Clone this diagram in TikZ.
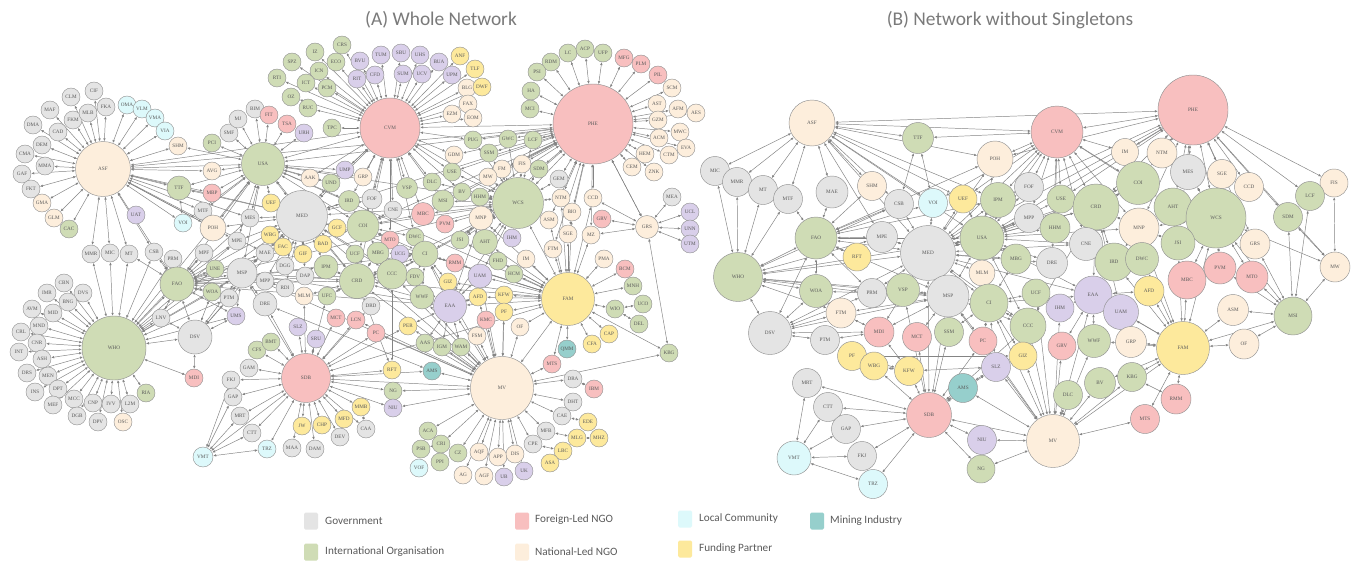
\documentclass[tikz,border=0pt]{standalone}
\usepackage{fontspec}
\setmainfont{Carlito}
\newfontfamily\labfont{Liberation Serif}
\usetikzlibrary{arrows.meta}
\pgfdeclarelayer{back}
\pgfdeclarelayer{bg}
\pgfsetlayers{back,bg,main}
\definecolor{cGov}{HTML}{E4E4E4}
\definecolor{cIO}{HTML}{CFDCB5}
\definecolor{cFN}{HTML}{F8BFBF}
\definecolor{cNN}{HTML}{FDEEDC}
\definecolor{cLC}{HTML}{DDF9FB}
\definecolor{cFP}{HTML}{FDE99C}
\definecolor{cMI}{HTML}{96CFCC}
\definecolor{cPU}{HTML}{D9CFEA}
\definecolor{nodeb}{HTML}{929292}
\definecolor{edgec}{HTML}{848484}
\definecolor{labc}{HTML}{5A5A5A}
\definecolor{titc}{HTML}{7A7A7A}
\definecolor{legc}{HTML}{5A5A5A}
\tikzset{
  nb/.style={circle, draw=nodeb, line width=0.45pt, inner sep=0pt, text=labc,
    font=\labfont\fontsize{5.2}{6}\selectfont},
  sGov/.style={nb, fill=cGov},
  sIO/.style={nb, fill=cIO},
  sFN/.style={nb, fill=cFN},
  sNN/.style={nb, fill=cNN},
  sLC/.style={nb, fill=cLC},
  sFP/.style={nb, fill=cFP},
  sMI/.style={nb, fill=cMI},
  sPU/.style={nb, fill=cPU},
  ed/.style={draw=edgec, line width=0.48pt,
    {Latex[length=3pt,width=2.5pt]}-{Latex[length=3pt,width=2.5pt]}},
  ttl/.style={text=titc, font=\fontsize{19.4}{22}\selectfont, inner sep=0pt},
  legsq/.style={minimum width=14pt, minimum height=17pt, inner sep=0pt, rounded corners=1.5pt},
  legtx/.style={anchor=west, text=legc, font=\fontsize{11.2}{13}\selectfont, inner sep=0pt}
}
\newcommand{\nd}[5][18]{\node[#2,minimum size=#1pt] (#3) at (#4,#5) {#3};}
\newcommand{\ndb}[5][29]{\node[#2,minimum size=#1pt] (b#3) at (#4,#5) {#3};}
\newcommand{\hubA}[2]{\foreach \tgt in {#2} {\draw[ed] (#1) -- (\tgt);}}
\newcommand{\hubB}[2]{\foreach \tgt in {#2} {\draw[ed] (b#1) -- (b\tgt);}}
\begin{document}
\begin{tikzpicture}[x=1pt,y=-1pt]
\useasboundingbox (0,0) rectangle (1356,562);
\begin{pgfonlayer}{back}
\fill[white] (0,0) rectangle (1356,562);
\end{pgfonlayer}
\node[ttl] (tA) at (441,20) {(A) Whole Network};
\node[ttl] (tB) at (1010,20) {(B) Network without Singletons};
% ===================== LEFT NETWORK =====================
\nd[55]{sNN}{ASF}{103}{169}
\nd{sGov}{CIF}{94}{91}
\nd{sGov}{CLM}{71}{97}
\nd{sGov}{MAF}{50}{110}
\nd{sGov}{FKM}{73}{120}
\nd{sGov}{MLB}{88}{113}
\nd{sGov}{FKA}{106}{107}
\nd{sLC}{OMA}{127}{105}
\nd{sLC}{VLM}{142}{109}
\nd{sLC}{VMA}{155}{118}
\nd{sLC}{VIA}{165}{131}
\nd{sNN}{SHM}{178}{146}
\nd{sGov}{DMA}{33}{125}
\nd{sGov}{CAD}{58}{132}
\nd{sGov}{DEM}{42}{145}
\nd{sGov}{CMA}{25}{154}
\nd{sGov}{MMA}{45}{166}
\nd{sGov}{GAF}{22}{174}
\nd{sGov}{FKT}{31}{189}
\nd{sNN}{GMA}{42}{203}
\nd{sNN}{GLM}{54}{218}
\nd{sIO}{CAC}{69}{229}
\nd{sPU}{UAT}{136}{215}
\nd[24]{sIO}{TTF}{179}{188}
\nd{sFN}{MBP}{212}{193}
\nd{sNN}{AVG}{212}{171}
\nd{sIO}{PCI}{212}{143}
\nd{sGov}{SMF}{229}{133}
\nd{sGov}{MTF}{203}{211}
\nd{sLC}{VOI}{183}{223}
\nd[26]{sNN}{POH}{213}{228}
\nd{sGov}{MPE}{237}{241}
% WHO cluster
\nd[64]{sIO}{WHO}{114}{348}
\nd{sGov}{MMR}{91}{254}
\nd{sGov}{MIC}{110}{253}
\nd{sGov}{MT}{129}{254}
\nd{sGov}{CSB}{154}{252}
\nd{sGov}{PRM}{173}{259}
\nd{sGov}{MPF}{204}{253}
\nd{sIO}{UNE}{215}{269}
\nd[34]{sIO}{FAO}{177}{284}
\nd{sIO}{WOA}{212}{292}
\nd{sGov}{PTM}{229}{298}
\nd{sPU}{UMS}{236}{316}
\nd{sGov}{LNV}{161}{318}
\nd[34]{sGov}{DSV}{195}{337}
\nd{sFN}{MDI}{194}{378}
\nd{sGov}{CBN}{64}{283}
\nd{sGov}{IMR}{47}{293}
\nd{sGov}{DVS}{83}{293}
\nd{sGov}{BNG}{68}{302}
\nd{sGov}{AVM}{32}{309}
\nd{sGov}{MID}{53}{313}
\nd{sGov}{MND}{39}{326}
\nd{sGov}{CRL}{21}{332}
\nd{sGov}{CNR}{37}{343}
\nd{sGov}{INT}{19}{352}
\nd{sGov}{ASH}{42}{359}
\nd{sGov}{DRS}{27}{373}
\nd{sGov}{MEN}{48}{376}
\nd{sGov}{DPT}{58}{389}
\nd{sGov}{INS}{35}{392}
\nd{sGov}{MCC}{74}{399}
\nd{sGov}{MEF}{53}{405}
\nd{sGov}{CNP}{93}{403}
\nd{sGov}{IVV}{111}{404}
\nd{sGov}{L2M}{130}{404}
\nd{sIO}{RIA}{146}{393}
\nd{sGov}{DGB}{77}{416}
\nd{sGov}{DPV}{98}{422}
\nd{sNN}{OSC}{123}{422}
% VMT cluster
\nd{sGov}{FKJ}{231}{380}
\nd{sGov}{GAP}{233}{397}
\nd{sGov}{MRT}{240}{416}
\nd{sGov}{CTT}{252}{433}
\nd{sLC}{TRZ}{267}{449}
\nd[20]{sLC}{VMT}{203}{457}
% CVM cluster
\nd[60]{sFN}{CVM}{390}{128}
\nd{sIO}{CRS}{342}{45}
\nd{sIO}{IZ}{315}{52}
\nd{sIO}{ECO}{336}{62}
\nd{sIO}{SPZ}{292}{62}
\nd{sIO}{ICN}{319}{71}
\nd{sIO}{RTI}{277}{78}
\nd{sIO}{ICT}{306}{83}
\nd{sIO}{PCM}{327}{88}
\nd{sIO}{OZ}{291}{97}
\nd{sIO}{RUC}{308}{108}
\nd{sPU}{BVU}{360}{61}
\nd{sPU}{TUM}{381}{55}
\nd{sPU}{SBU}{401}{53}
\nd{sPU}{UHS}{420}{55}
\nd{sPU}{BUA}{439}{62}
\nd{sFP}{ANF}{460}{56}
\nd{sPU}{RIT}{357}{79}
\nd{sPU}{CFD}{375}{75}
\nd{sPU}{SUM}{403}{74}
\nd{sPU}{UCV}{422}{74}
\nd{sPU}{UPM}{452}{75}
\nd{sFP}{TLF}{475}{69}
\nd{sNN}{BLG}{467}{88}
\nd{sFP}{DWF}{482}{87}
\nd{sNN}{FAX}{468}{104}
\nd{sNN}{EOM}{473}{118}
\nd{sNN}{EZM}{452}{114}
\nd{sIO}{TPC}{332}{128}
% USA cluster
\nd[43]{sIO}{USA}{263}{164}
\nd{sGov}{BIM}{255}{109}
\nd{sGov}{MJ}{238}{119}
\nd{sFN}{FIT}{269}{115}
\nd{sFN}{TSA}{287}{124}
\nd{sPU}{URH}{304}{133}
% centre
\nd[51]{sGov}{MED}{302}{216}
\nd{sFP}{UEF}{271}{203}
\nd{sGov}{MES}{250}{218}
\nd{sFP}{WBG}{270}{235}
\nd{sFP}{FAC}{283}{247}
\nd{sFP}{BAD}{323}{244}
\nd{sFP}{GCF}{337}{228}
\nd{sPU}{UMP}{345}{170}
\nd{sNN}{GRP}{363}{177}
\nd{sNN}{AAK}{310}{178}
\nd{sIO}{UND}{331}{183}
\nd[21]{sIO}{IRD}{349}{201}
\nd[20]{sGov}{FOF}{372}{199}
\nd[21]{sIO}{VSP}{407}{188}
\nd{sIO}{DLC}{432}{182}
\nd{sNN}{GDM}{454}{155}
\nd{sIO}{USE}{452}{172}
\nd{sIO}{BV}{462}{192}
\nd[22]{sIO}{MSI}{443}{201}
\nd[23]{sFN}{MBC}{423}{214}
\nd{sFN}{PVM}{445}{224}
\nd{sGov}{CNE}{393}{210}
\nd[32]{sIO}{COI}{363}{226}
\nd{sFN}{MTO}{390}{240}
\nd{sIO}{DWC}{415}{237}
\nd{sIO}{JSI}{460}{240}
\nd{sGov}{MAE}{265}{253}
\nd{sFP}{GIF}{303}{254}
\nd{sGov}{DGG}{285}{266}
\nd{sGov}{MPP}{265}{281}
\nd{sGov}{DAP}{305}{276}
\nd{sGov}{RDI}{285}{288}
\nd[30]{sGov}{MSP}{242}{273}
\nd[24]{sIO}{IPM}{326}{267}
\nd{sIO}{UCF}{355}{254}
\nd[22]{sIO}{MBG}{378}{253}
\nd{sPU}{UCG}{400}{254}
\nd[26]{sIO}{CI}{425}{254}
\nd{sFN}{RMM}{455}{263}
\nd[35]{sIO}{CRD}{357}{281}
\nd[30]{sIO}{CCC}{392}{274}
\nd{sIO}{FDV}{415}{277}
\nd{sFP}{GIZ}{448}{282}
\nd[24]{sIO}{WWF}{422}{297}
\nd[33]{sPU}{EAA}{450}{306}
\nd[24]{sGov}{DRE}{265}{304}
\nd{sNN}{MLM}{304}{296}
\nd{sIO}{UFC}{327}{296}
\nd{sGov}{DRD}{371}{306}
\nd{sPU}{SLZ}{298}{327}
\nd{sPU}{SRU}{316}{339}
\nd{sFN}{MCT}{336}{318}
\nd{sFN}{LCN}{356}{320}
\nd{sFN}{PC}{376}{333}
\nd{sFP}{PER}{408}{326}
\nd{sIO}{AAS}{425}{343}
\nd{sIO}{IGM}{442}{347}
\nd{sIO}{WAM}{461}{347}
% SDB cluster
\nd[49]{sFN}{SDB}{306}{378}
\nd{sIO}{CFS}{257}{350}
\nd{sIO}{BMT}{271}{342}
\nd{sGov}{GAM}{249}{368}
\nd{sFP}{RFT}{392}{370}
\nd{sMI}{AMS}{432}{371}
\nd{sIO}{NG}{393}{391}
\nd{sPU}{NIU}{393}{408}
\nd{sFP}{MMB}{361}{407}
\nd{sFP}{MFD}{344}{419}
\nd{sGov}{CAA}{366}{429}
\nd{sGov}{DEV}{340}{437}
\nd{sFP}{CHP}{322}{425}
\nd{sFP}{JW}{302}{426}
\nd{sGov}{DAM}{315}{449}
\nd{sGov}{MAA}{292}{448}
% MV cluster
\nd[63]{sNN}{MV}{502}{388}
\nd{sIO}{ACA}{428}{431}
\nd{sIO}{CRI}{441}{444}
\nd{sIO}{PSB}{421}{449}
\nd{sIO}{PPI}{440}{462}
\nd{sLC}{VOF}{419}{468}
\nd{sIO}{CZ}{458}{453}
\nd{sNN}{AG}{463}{475}
\nd{sNN}{AQF}{479}{452}
\nd{sNN}{APP}{498}{457}
\nd{sNN}{DIS}{515}{454}
\nd{sNN}{AGF}{484}{476}
\nd{sPU}{UB}{504}{477}
\nd{sPU}{UK}{524}{471}
\nd{sGov}{CPE}{533}{444}
\nd{sGov}{MFB}{546}{431}
\nd{sGov}{CAE}{562}{416}
\nd{sGov}{DHT}{573}{402}
\nd{sGov}{DRA}{573}{379}
\nd{sFN}{IBM}{594}{389}
\nd{sFP}{EDE}{588}{422}
\nd{sFP}{MLG}{577}{438}
\nd{sFP}{MHZ}{599}{438}
\nd{sFP}{LBC}{563}{451}
\nd{sFP}{ASA}{550}{463}
\nd{sFN}{MTS}{552}{364}
% FAM cluster
\nd[53]{sFP}{FAM}{568}{299}
\nd{sNN}{PMA}{604}{259}
\nd{sFN}{BCM}{625}{269}
\nd{sIO}{MNH}{633}{286}
\nd{sIO}{WIO}{615}{309}
\nd{sIO}{UCO}{643}{304}
\nd{sIO}{DEL}{639}{324}
\nd{sFP}{CAP}{609}{334}
\nd{sFP}{CFA}{592}{344}
\nd{sMI}{QMM}{567}{349}
\nd{sIO}{KBG}{669}{353}
\nd{sFP}{AFD}{478}{297}
\nd{sFP}{KFW}{504}{295}
\nd{sFP}{PF}{504}{312}
\nd{sFN}{KMC}{486}{320}
\nd{sNN}{OF}{520}{327}
\nd{sNN}{FSM}{477}{336}
\nd{sIO}{FHD}{498}{261}
\nd{sNN}{IM}{526}{259}
\nd[24]{sPU}{UAM}{480}{276}
\nd{sIO}{HCM}{514}{274}
\nd{sNN}{FTM}{553}{249}
% PHE cluster
\nd[80]{sFN}{PHE}{593}{124}
\nd{sIO}{LC}{568}{53}
\nd{sIO}{ACP}{585}{49}
\nd{sIO}{UFP}{603}{53}
\nd{sIO}{RDM}{551}{62}
\nd{sIO}{PSI}{537}{72}
\nd{sIO}{HA}{531}{91}
\nd{sIO}{MCI}{530}{109}
\nd{sFN}{MFG}{624}{58}
\nd{sFN}{PLM}{641}{64}
\nd{sFN}{PIL}{658}{75}
\nd{sNN}{SCM}{672}{88}
\nd{sNN}{AST}{657}{104}
\nd{sNN}{AFM}{678}{109}
\nd{sNN}{AES}{696}{113}
\nd{sNN}{GZM}{658}{120}
\nd{sNN}{MWC}{680}{132}
\nd{sNN}{ACM}{659}{138}
\nd{sNN}{EVA}{686}{148}
\nd{sNN}{HEM}{645}{154}
\nd{sNN}{CTM}{669}{155}
\nd{sNN}{CEM}{632}{167}
\nd{sNN}{ZNK}{654}{172}
\nd{sIO}{PUG}{473}{140}
\nd{sIO}{GWC}{508}{139}
\nd{sIO}{LCF}{533}{140}
\nd{sIO}{SSM}{489}{153}
\nd{sNN}{FM}{502}{169}
\nd{sNN}{FIS}{522}{164}
\nd{sNN}{MW}{488}{177}
\nd{sIO}{SDM}{539}{169}
\nd{sGov}{GEM}{559}{179}
\nd{sIO}{HHM}{480}{197}
\nd[51]{sIO}{WCS}{518}{203}
\nd{sNN}{NTM}{561}{198}
\nd{sNN}{CCD}{593}{198}
\nd{sNN}{BIO}{572}{212}
\nd{sNN}{ASM}{549}{220}
\nd{sFN}{GRV}{602}{219}
\nd[24]{sNN}{MNP}{481}{218}
\nd{sNN}{SGE}{568}{234}
\nd{sNN}{MZ}{591}{235}
\nd[23]{sNN}{GRS}{647}{227}
\nd{sGov}{MEA}{672}{197}
\nd{sPU}{UCL}{690}{212}
\nd{sPU}{UNN}{690}{229}
\nd{sPU}{UTM}{690}{244}
\nd{sPU}{IHM}{512}{238}
\nd[25]{sIO}{AHT}{485}{242}
% ===================== RIGHT NETWORK =====================
\ndb[46]{sNN}{ASF}{812}{123}
\ndb[31]{sIO}{TTF}{918}{138}
\ndb[36]{sNN}{POH}{995}{159}
\ndb{sGov}{MIC}{715}{171}
\ndb{sGov}{MMR}{737}{182}
\ndb{sGov}{MT}{763}{190}
\ndb{sGov}{MTF}{788}{199}
\ndb[32]{sGov}{MAE}{832}{192}
\ndb{sNN}{SHM}{872}{186}
\ndb{sGov}{CSB}{899}{204}
\ndb{sLC}{VOI}{933}{203}
\ndb[28]{sFP}{UEF}{963}{199}
\ndb[35]{sIO}{IPM}{998}{200}
\ndb{sGov}{FOF}{1029}{187}
\ndb[42]{sIO}{FAO}{816}{238}
\ndb[31]{sGov}{MPE}{882}{237}
\ndb[55]{sGov}{MED}{928}{253}
\ndb[44]{sIO}{USA}{982}{238}
\ndb[28]{sFP}{RFT}{857}{257}
\ndb[26]{sNN}{MLM}{982}{273}
\ndb[30]{sIO}{MBG}{1016}{259}
\ndb[49]{sIO}{WHO}{738}{277}
\ndb[52]{sFN}{CVM}{1057}{132}
\ndb[70]{sFN}{PHE}{1193}{110}
\ndb[27]{sNN}{IM}{1125}{152}
\ndb[30]{sNN}{NTM}{1162}{153}
\ndb[35]{sGov}{MES}{1188}{172}
\ndb{sNN}{SGE}{1222}{174}
\ndb{sNN}{CCD}{1249}{187}
\ndb[28]{sNN}{FIS}{1334}{183}
\ndb{sIO}{LCF}{1310}{196}
\ndb{sIO}{SDM}{1288}{217}
\ndb[28]{sIO}{USE}{1061}{199}
\ndb[43]{sIO}{COI}{1138}{183}
\ndb[46]{sIO}{CRD}{1096}{207}
\ndb{sGov}{MPP}{1029}{218}
\ndb[30]{sIO}{HHM}{1055}{228}
\ndb[38]{sIO}{AHT}{1173}{207}
\ndb[60]{sIO}{WCS}{1216}{218}
\ndb[40]{sNN}{MNP}{1139}{228}
\ndb[33]{sGov}{CNE}{1086}{244}
\ndb[34]{sIO}{JSI}{1178}{243}
\ndb[30]{sNN}{GRS}{1255}{244}
\ndb[31]{sGov}{DRE}{1052}{263}
\ndb[38]{sIO}{IRD}{1114}{262}
\ndb[33]{sIO}{DWC}{1142}{259}
\ndb[30]{sNN}{MW}{1335}{267}
\ndb[32]{sFN}{PVM}{1220}{268}
\ndb[32]{sFN}{MTO}{1252}{277}
\ndb[38]{sFN}{MBC}{1187}{280}
\ndb[33]{sIO}{WOA}{816}{291}
\ndb{sGov}{PRM}{872}{293}
\ndb[33]{sIO}{VSP}{903}{290}
\ndb[42]{sGov}{MSP}{948}{296}
\ndb[38]{sIO}{CI}{989}{303}
\ndb[30]{sNN}{FTM}{841}{313}
\ndb[43]{sGov}{DSV}{770}{333}
\ndb{sGov}{PTM}{825}{340}
\ndb[30]{sFN}{MDI}{879}{332}
\ndb{sFN}{MCT}{917}{337}
\ndb{sIO}{SSM}{949}{332}
\ndb[28]{sFN}{PC}{983}{341}
\ndb[36]{sIO}{CCC}{1028}{326}
\ndb{sFP}{PF}{852}{356}
\ndb[28]{sFP}{WBG}{874}{366}
\ndb{sFP}{KFW}{909}{371}
\ndb{sPU}{SLZ}{996}{367}
\ndb[28]{sFP}{GIZ}{1023}{356}
\ndb{sMI}{AMS}{963}{388}
\ndb{sGov}{MRT}{807}{383}
\ndb{sGov}{CTT}{828}{407}
\ndb{sGov}{GAP}{846}{429}
\ndb[45]{sFN}{SDB}{929}{415}
\ndb{sPU}{NIU}{982}{440}
\ndb{sGov}{FKJ}{862}{456}
\ndb[34]{sLC}{VMT}{794}{458}
\ndb{sLC}{TRZ}{873}{484}
\ndb[28]{sIO}{NG}{981}{469}
\ndb[28]{sIO}{UCF}{1036}{293}
\ndb[28]{sPU}{IHM}{1060}{308}
\ndb[38]{sPU}{EAA}{1093}{295}
\ndb[35]{sPU}{UAM}{1121}{312}
\ndb[30]{sFP}{AFD}{1149}{291}
\ndb[31]{sNN}{ASM}{1233}{310}
\ndb[38]{sIO}{MSI}{1293}{316}
\ndb[28]{sFN}{GRV}{1062}{346}
\ndb[33]{sIO}{WWF}{1094}{341}
\ndb[31]{sNN}{GRP}{1131}{342}
\ndb[53]{sFP}{FAM}{1183}{348}
\ndb[30]{sNN}{OF}{1244}{344}
\ndb{sIO}{KBG}{1132}{377}
\ndb[31]{sIO}{BV}{1100}{383}
\ndb{sIO}{DLC}{1068}{395}
\ndb[30]{sFN}{RMM}{1176}{399}
\ndb{sFN}{MTS}{1145}{419}
\ndb[53]{sNN}{MV}{1053}{441}
% ===================== EDGES =====================
\begin{pgfonlayer}{bg}
\hubA{ASF}{CIF,CLM,MAF,FKM,MLB,FKA,OMA,VLM,VMA,VIA,SHM,DMA,CAD,DEM,CMA,MMA,GAF,FKT,GMA,GLM,CAC,MMR,MIC,MT,CSB,TTF,AVG,MBP,MTF,VOI,POH,MPE,USA,MED,CVM,PHE,MAE,FAO,MES}
\hubA{WHO}{CBN,IMR,DVS,BNG,AVM,MID,MND,CRL,CNR,INT,ASH,DRS,MEN,DPT,INS,MCC,MEF,CNP,IVV,L2M,RIA,DGB,DPV,OSC,MMR,MIC,MT,CSB,PRM,FAO,LNV,DSV,MDI,MPF,UNE,WOA,PTM,MSP,MED,USA,UMS,MPE}
\hubA{CVM}{CRS,IZ,ECO,SPZ,ICN,RTI,ICT,PCM,OZ,RUC,BVU,TUM,SBU,UHS,BUA,ANF,RIT,CFD,SUM,UCV,UPM,TLF,BLG,DWF,FAX,EOM,EZM,TPC,USA,PHE,GRP,UMP,VSP,IRD,FOF,CNE,MBC,COI,DLC,GDM,USE,MSI,WCS,MED,AAK,UND,CRD,MTO,DWC,PUG,BV}
\hubA{PHE}{LC,ACP,UFP,RDM,PSI,HA,MCI,MFG,PLM,PIL,SCM,AST,AFM,AES,GZM,MWC,ACM,EVA,HEM,CTM,CEM,ZNK,CCD,GRS,PUG,GWC,LCF,SSM,SDM,GEM,NTM,WCS,FIS,FM,MW,FTM,ASM,BIO,SGE,MZ,HHM,MSI,JSI,MBC,USA,MED,COI,GDM,USE}
\hubA{USA}{BIM,MJ,FIT,TSA,URH,SMF,PCI,AVG,MBP,TTF,UEF,MES,AAK,MED,UMP,GRP,UND,IRD,MPE,POH,VOI,MTF,FAO,MSP,CRD,COI,WCS,FAM,SHM}
\hubA{MED}{UEF,WBG,FAC,BAD,GCF,MAE,GIF,DGG,DAP,MPP,RDI,MSP,IPM,UND,IRD,FOF,CRD,FAO,DSV,POH,MPE,MES,TTF,WCS,EAA,CCC,MV,FAM}
\hubA{SDB}{CFS,BMT,GAM,FKJ,GAP,MRT,CTT,TRZ,MAA,DAM,JW,CHP,MFD,DEV,CAA,MMB,NIU,NG,RFT,AMS,SLZ,SRU,MCT,LCN,PC,DRE,MLM,UFC,VMT,MV,FAM,MSP,DRD,PER}
\hubA{VMT}{FKJ,GAP,MRT,CTT,TRZ}
\hubA{MV}{DRA,DHT,CAE,MFB,CPE,AQF,APP,DIS,AGF,UB,UK,AG,CZ,ACA,CRI,NIU,NG,AMS,KBG,MTS,WAM,IGM,AAS,EAA,PF,OF,FSM,KMC,KFW,AFD,FAM,PER,WWF,CCC,CRD,UAM,MSP,CI,PC,LCN}
\hubA{FAM}{PMA,BCM,MNH,WIO,CAP,CFA,QMM,KBG,MTS,OF,PF,KFW,AFD,IM,HCM,FTM,FHD,UAM,EAA,GIZ,RMM,JSI,WCS,CCD,NTM,BIO,ASM,SGE,MZ,MNP,AHT,CI,CRD}
\hubA{WIO}{UCO,DEL}
\hubA{GRS}{MEA,UCL,UNN,UTM,CCD,KBG,MZ,GRV,PHE}
\hubA{DSV}{MDI,FAO,LNV,WOA,PTM,MSP,UMS}
\hubA{FAO}{MSP,CRD,COI,MPF,UNE,WOA,PRM,PTM,UMS,MPE,MES,MAE,IPM,CCC,CI,EAA,WCS,LNV,CSB,MT}
\hubA{MSP}{DRE,PTM,MPP,RDI,WOA,UMS,CRD,EAA,MAE}
\hubA{CRD}{COI,CCC,IPM,UCF,MBG,CI,EAA,WCS,MLM,UFC,DRD,RFT}
\hubA{COI}{CCC,MBC,CNE,MTO,DWC,WCS,CI,IRD,FOF,GCF}
\hubA{WCS}{MNP,AHT,HHM,MSI,JSI,SSM,FM,MW,FIS,SDM,GEM,ASM,NTM,IHM,BV,USE,DLC,MBC,PVM,EAA,UAM,CI,CCC,PUG,GWC,LCF}
\hubA{CI}{CCC,EAA,GIZ,RMM,FDV,WWF,UCG,MBG}
\hubA{EAA}{WWF,GIZ,AAS,IGM,WAM,PER,UAM,AFD}
\hubA{MNP}{AHT,HHM,JSI,EAA}
\hubA{DRE}{AMS}
\hubA{CCC}{RFT}
\hubA{DRA}{IBM}
\hubA{CAE}{EDE}
\hubA{MFB}{MLG}
\hubA{MLG}{MHZ}
\hubA{CPE}{LBC}
\hubA{LBC}{ASA}
\hubA{CRI}{PSB,PPI}
\hubA{PSB}{VOF}
\hubA{MFD}{DEV}
\hubA{MMB}{CAA}
\hubA{TTF}{VOI}
% right
\hubB{ASF}{MIC,MMR,MT,MTF,MAE,SHM,TTF,CVM,PHE,VOI,POH,MED,USA,IPM,CSB,UEF,MPE}
\hubB{WHO}{MIC,MMR,MT,MTF,FAO,WOA,DSV,PRM,FTM,MED,MPE,USA,VSP,MSP,CSB}
\hubB{DSV}{WOA,PTM,FTM,FAO,MDI,MSP,PRM,MED}
\hubB{FAO}{MAE,MPE,MED,USA,RFT,WOA,CSB,VOI,MTF,POH,IPM,MSP,PRM,SHM}
\hubB{SDB}{MRT,CTT,GAP,FKJ,TRZ,KFW,MCT,AMS,NIU,SLZ,PC,MED,WBG,MSP,MV,CCC,VSP,NG,SSM}
\hubB{VMT}{MRT,CTT,GAP,FKJ,TRZ}
\hubB{MV}{NG,NIU,MTS,DLC,BV,KBG,GIZ,SLZ,CCC,WWF,GRV,EAA,AMS,FAM,CI,IHM,UCF,MSP,PC}
\hubB{FAM}{RMM,MTS,KBG,OF,ASM,MBC,AFD,GRP,UAM,EAA,JSI,WCS,MSI,DWC,IRD,MNP,WWF,BV}
\hubB{MSI}{OF,ASM,MTO,PVM,WCS,SDM,LCF,MW,GRS}
\hubB{PHE}{FIS,LCF,SDM,CCD,SGE,MES,NTM,IM,CVM,WCS,AHT,COI,CRD,MNP,JSI,GRS,MW,USA,MED,IPM,POH,USE}
\hubB{CVM}{USE,FOF,MPP,CRD,COI,IM,USA,IPM,MED,POH,TTF,UEF,VOI,HHM,CNE,MNP,DRE,AHT}
\hubB{MW}{FIS,SDM,WCS}
\hubB{WCS}{GRS,CCD,SGE,MES,AHT,JSI,MBC,PVM,MTO,MNP}
\hubB{MED}{USA,MPE,IPM,MSP,CI,VSP,CRD,COI,MBG,MLM,CCC,EAA,UEF,VOI,CSB,POH,FOF,MPP,DRE,CNE,PRM,MDI}
\hubB{USA}{IPM,MBG,MLM,POH,UEF,CRD,COI,MSP,CI,CCC,HHM,MPP,FOF,USE,EAA,DRE,CNE,MNP}
\hubB{MSP}{VSP,CI,PRM,FTM,MDI,MCT,SSM,PC,CCC,WOA}
\hubB{CI}{CCC,SLZ,GIZ,PC,SSM,EAA,UCF,MBG}
\hubB{TTF}{VOI,CSB}
\hubB{KFW}{PF,WBG,MDI,SLZ}
\hubB{PF}{GIZ}
\hubB{AMS}{SLZ}
\hubB{KBG}{RMM}
\hubB{FTM}{MDI}
\hubB{PTM}{MDI}
\hubB{CRD}{COI,IRD,CNE,MNP,EAA,UAM,CCC}
\hubB{EAA}{UAM,IHM,GRP,WWF,GRV,AFD}
\hubB{MNP}{AHT,JSI,DWC,IRD}
\end{pgfonlayer}
% ===================== LEGEND =====================
\node[legsq, fill=cGov] (lq1) at (311,521) {};
\node[legtx] (lt1) at (325,521) {Government};
\node[legsq, fill=cIO] (lq2) at (311,552) {};
\node[legtx] (lt2) at (325,552) {International Organisation};
\node[legsq, fill=cFN] (lq3) at (522,521) {};
\node[legtx] (lt3) at (535,520) {Foreign-Led NGO};
\node[legsq, fill=cNN] (lq4) at (522,552) {};
\node[legtx] (lt4) at (535,552) {National-Led NGO};
\node[legsq, fill=cLC] (lq5) at (685,519) {};
\node[legtx] (lt5) at (699,519) {Local Community};
\node[legsq, fill=cFP] (lq6) at (685,549) {};
\node[legtx] (lt6) at (699,549) {Funding Partner};
\node[legsq, fill=cMI] (lq7) at (817,521) {};
\node[legtx] (lt7) at (830,521) {Mining Industry};
\end{tikzpicture}
\end{document}
